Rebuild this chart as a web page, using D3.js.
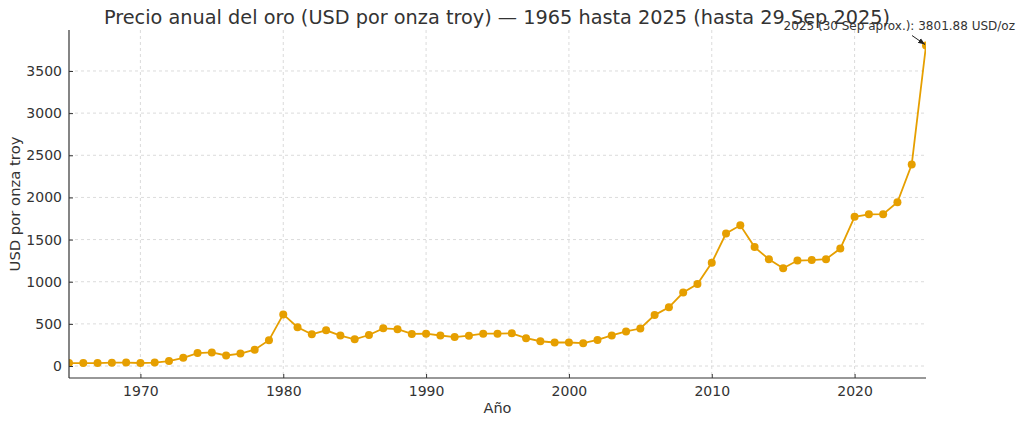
<!DOCTYPE html>
<html><head><meta charset="utf-8">
<script src="https://cdn.jsdelivr.net/npm/d3@7/dist/d3.min.js"></script>
<style>body{margin:0;background:#fff;} svg{display:block;font-family:"DejaVu Sans",sans-serif;}</style>
</head><body>
<svg id="c" width="1024" height="425"></svg>
<script>
const years = d3.range(1965, 2026);
const prices = [35.1,35.1,35.1,39.3,41.3,36.0,40.8,58.2,97.3,154.0,161.0,125.0,148.0,194.0,307.0,
  612.0,460.0,376.0,424.0,361.0,317.0,368.0,447.0,437.0,381.0,384.0,362.0,344.0,360.0,384.0,384.0,388.0,
  331.0,294.0,279.0,279.0,271.0,310.0,363.0,410.0,445.0,604.0,696.0,872.0,972.0,1225.0,1572.0,1669.0,
  1411.0,1266.0,1160.0,1251.0,1257.0,1268.0,1393.0,1770.0,1799.0,1801.0,1943.0,2390.0,3801.88];
const xTicks = [1970,1980,1990,2000,2010,2020];
const yTicks = [0,500,1000,1500,2000,2500,3000,3500];
const title = "Precio anual del oro (USD por onza troy) — 1965 hasta 2025 (hasta 29 Sep 2025)";
const annot = "2025 (30 Sep aprox.): 3801.88 USD/oz";

const data = years.map((y,i)=>({year:y, value:prices[i]}));
const svg = d3.select("#c");
const L=69, R=926, T=30, B=378;
const x = d3.scaleLinear().domain([1965,2025]).range([L,R]);
const y = d3.scaleLinear().domain([-142,3986]).range([B,T]);
const color = "#E69F00";

// grid
const g = svg.append("g");
g.selectAll(".gx").data(xTicks).join("line")
  .attr("x1",d=>x(d)).attr("x2",d=>x(d)).attr("y1",T).attr("y2",B)
  .attr("stroke","#d2d2d2").attr("stroke-width",0.8).attr("stroke-dasharray","3,3");
g.selectAll(".gy").data(yTicks).join("line")
  .attr("x1",L).attr("x2",R).attr("y1",d=>y(d)).attr("y2",d=>y(d))
  .attr("stroke","#d2d2d2").attr("stroke-width",0.8).attr("stroke-dasharray","3,3");

// clip
svg.append("clipPath").attr("id","clip").append("rect").attr("x",L).attr("y",T).attr("width",R-L).attr("height",B-T);
const plot = svg.append("g").attr("clip-path","url(#clip)");
plot.append("path").datum(data)
  .attr("d", d3.line().x(d=>x(d.year)).y(d=>y(d.value)))
  .attr("fill","none").attr("stroke",color).attr("stroke-width",1.8);
plot.selectAll("circle").data(data).join("circle")
  .attr("cx",d=>x(d.year)).attr("cy",d=>y(d.value)).attr("r",4).attr("fill",color);

// axes
const xAxis = d3.axisBottom(x).tickValues(xTicks).tickFormat(d3.format("d")).tickSizeInner(-4).tickSizeOuter(0).tickPadding(8);
const yAxis = d3.axisLeft(y).tickValues(yTicks).tickFormat(d3.format("d")).tickSizeInner(-4).tickSizeOuter(0).tickPadding(7);
const gx = svg.append("g").attr("transform",`translate(0,${B})`).call(xAxis);
const gy = svg.append("g").attr("transform",`translate(${L},0)`).call(yAxis);
[gx,gy].forEach(a=>{
  a.select(".domain").attr("stroke","#333").attr("stroke-width",1.2);
  a.selectAll(".tick line").attr("stroke","#333");
  a.selectAll(".tick text").attr("fill","#333").style("font-size","14px").style("font-family","DejaVu Sans");
});
gx.select(".domain").attr("d",`M${L},0H${R}`);
gy.select(".domain").attr("d",`M0,${B}V${T}`);

// labels
svg.append("text").attr("x",(L+R)/2).attr("y",413).attr("text-anchor","middle")
  .attr("fill","#333").style("font-size","14.5px").text("Año");
svg.append("text").attr("transform",`translate(20,${(T+B)/2}) rotate(-90)`).attr("text-anchor","middle")
  .attr("fill","#333").style("font-size","14.8px").text("USD por onza troy");
svg.append("text").attr("x",497).attr("y",24).attr("text-anchor","middle")
  .attr("fill","#333").style("font-size","19.3px").text(title);

// annotation
const last = data[data.length-1];
svg.append("defs").append("marker").attr("id","ah").attr("viewBox","0 0 10 10").attr("refX",10).attr("refY",5)
  .attr("markerWidth",7).attr("markerHeight",7).attr("orient","auto")
  .append("path").attr("d","M0,1L10,5L0,9z").attr("fill","#222");
svg.append("line").attr("x1",x(last.year)-14).attr("y1",y(last.value)-10)
  .attr("x2",x(last.year)-1).attr("y2",y(last.value)-1)
  .attr("stroke","#222").attr("stroke-width",1).attr("marker-end","url(#ah)");
svg.append("text").attr("x",x(last.year)+89).attr("y",y(last.value)-16).attr("text-anchor","end")
  .attr("fill","#333").style("font-size","12px").text(annot);
</script>
</body></html>
